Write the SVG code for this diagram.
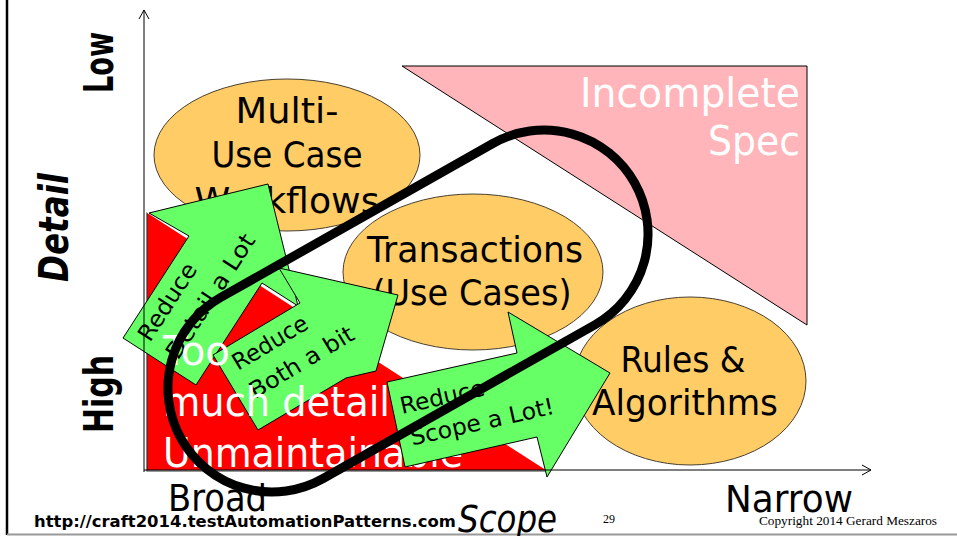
<svg xmlns="http://www.w3.org/2000/svg" width="957" height="536" viewBox="0 0 957 536">
<style>
.f{font-family:"DejaVu Sans","Liberation Sans",sans-serif}
.ell{fill:#FFCC66;stroke:#4a4030;stroke-width:1}
.ellt{font-size:36px;fill:#000;text-anchor:middle}
.arr{fill:#66FF66;stroke:#000;stroke-width:1;stroke-linejoin:miter}
.arrt{font-size:23px;fill:#000}
.wt{font-size:40px;fill:#fff}
.axl{font-size:40px;font-weight:bold;fill:#000}
.ax{stroke:#000;stroke-width:1;fill:none}
.lbl{font-size:38px;fill:#000}
</style>
<g id="frame">
<line x1="7" y1="0" x2="7" y2="535" stroke="#000" stroke-width="2.5"/>
<line x1="7" y1="534.5" x2="957" y2="534.5" stroke="#999" stroke-width="2"/>
</g>
<g id="incomplete-spec">
<polygon points="402,66 807,66 807,325" fill="#FFB5BA" stroke="#000" stroke-width="1"/>
<text class="f wt" x="800" y="107" text-anchor="end" textLength="220" lengthAdjust="spacingAndGlyphs">Incomplete</text>
<text class="f wt" x="800" y="155" text-anchor="end" textLength="92" lengthAdjust="spacingAndGlyphs">Spec</text>
</g>
<g id="too-much-detail">
<polygon points="147,212 147,470 547,470" fill="#FF0000"/>
<polyline points="147,212 147,471 547,471" fill="none" stroke="#333" stroke-width="1.2"/>
<line x1="147" y1="211" x2="547" y2="469" stroke="#fff" stroke-width="3"/>
</g>
<g id="workflows">
<ellipse class="ell" cx="287" cy="155" rx="133" ry="76"/>
<text class="f ellt" x="287" y="123" textLength="103" lengthAdjust="spacingAndGlyphs">Multi-</text>
<text class="f ellt" x="287" y="167" textLength="151" lengthAdjust="spacingAndGlyphs">Use Case</text>
<text class="f ellt" x="287" y="213" textLength="185" lengthAdjust="spacingAndGlyphs">Workflows</text>
</g>
<g id="transactions">
<ellipse class="ell" cx="473" cy="272" rx="130" ry="78"/>
<text class="f ellt" x="475" y="262" textLength="216" lengthAdjust="spacingAndGlyphs">Transactions</text>
<text class="f ellt" x="472" y="305" textLength="199" lengthAdjust="spacingAndGlyphs">(Use Cases)</text>
</g>
<g id="rules">
<ellipse class="ell" cx="690" cy="381" rx="116" ry="84"/>
<text class="f ellt" x="683" y="372" textLength="125" lengthAdjust="spacingAndGlyphs">Rules &amp;</text>
<text class="f ellt" x="685" y="415" textLength="186" lengthAdjust="spacingAndGlyphs">Algorithms</text>
</g>
<g id="reduce-detail">
<polygon class="arr" points="123,338 189,236 149,213 268,184 298,306 262,283 196,385"/>
<g transform="translate(150,343) rotate(-57)">
<text class="f arrt" x="0" y="0" textLength="88" lengthAdjust="spacingAndGlyphs">Reduce</text>
<text class="f arrt" x="0" y="33" textLength="144" lengthAdjust="spacingAndGlyphs">Detail a Lot</text>
</g>
</g>
<g id="reduce-both">
<polygon class="arr" points="213,355 300,303 279,268 398,295 376,371 346,378 258,430"/>
<g transform="translate(238,371) rotate(-31)">
<text class="f arrt" x="0" y="0" textLength="84" lengthAdjust="spacingAndGlyphs">Reduce</text>
<text class="f arrt" x="0" y="33" textLength="118" lengthAdjust="spacingAndGlyphs">Both a bit</text>
</g>
</g>
<g id="too-much-detail-text">
<text class="f wt" x="163" y="365" textLength="67" lengthAdjust="spacingAndGlyphs">Too</text>
<text class="f wt" x="163" y="416" textLength="227" lengthAdjust="spacingAndGlyphs">much detail</text>
<text class="f wt" x="163" y="467" textLength="300" lengthAdjust="spacingAndGlyphs">Unmaintainable</text>
</g>
<g id="reduce-scope">
<polygon class="arr" points="387,382 517,353 508,312 610,373 547,477 537,437 405,467"/>
<g transform="translate(402,414) rotate(-12.6)">
<text class="f arrt" x="0" y="0" textLength="86" lengthAdjust="spacingAndGlyphs">Reduce</text>
<text class="f arrt" x="3" y="33" textLength="147" lengthAdjust="spacingAndGlyphs">Scope a Lot!</text>
</g>
</g>
<g id="connectors">
<line class="ax" x1="144" y1="472" x2="144" y2="10"/>
<polyline class="ax" points="139,19 144,10 149,19"/>
<line class="ax" x1="144" y1="470" x2="871" y2="470"/>
<polyline class="ax" points="862,465 871,470 862,475"/>
<rect x="147.7" y="207" width="520.6" height="208" rx="104" ry="104" fill="none" stroke="#000" stroke-width="9" transform="rotate(-29.5 408 311)"/>
</g>
<g id="axis-labels">
<text class="f axl" transform="translate(113,93) rotate(-90)" textLength="61" lengthAdjust="spacingAndGlyphs">Low</text>
<text class="f axl" transform="translate(68,282) rotate(-90)" font-style="italic" textLength="109" lengthAdjust="spacingAndGlyphs">Detail</text>
<text class="f axl" transform="translate(113,433) rotate(-90)" textLength="78" lengthAdjust="spacingAndGlyphs">High</text>
<text class="f lbl" x="168" y="511" textLength="99" lengthAdjust="spacingAndGlyphs">Broad</text>
<text class="f lbl" x="725" y="512" textLength="128" lengthAdjust="spacingAndGlyphs">Narrow</text>
<text class="f lbl" x="458" y="532" font-style="italic" textLength="99" lengthAdjust="spacingAndGlyphs">Scope</text>
</g>
<g id="footer">
<text class="f" x="34" y="527" font-size="16" font-weight="bold" textLength="422" lengthAdjust="spacingAndGlyphs">http://craft2014.testAutomationPatterns.com</text>
<text x="603" y="523" font-family="Liberation Serif, serif" font-size="12" textLength="12" lengthAdjust="spacingAndGlyphs">29</text>
<text x="759" y="525" font-family="Liberation Serif, serif" font-size="13" textLength="178" lengthAdjust="spacingAndGlyphs">Copyright 2014 Gerard Meszaros</text>
</g>
</svg>
